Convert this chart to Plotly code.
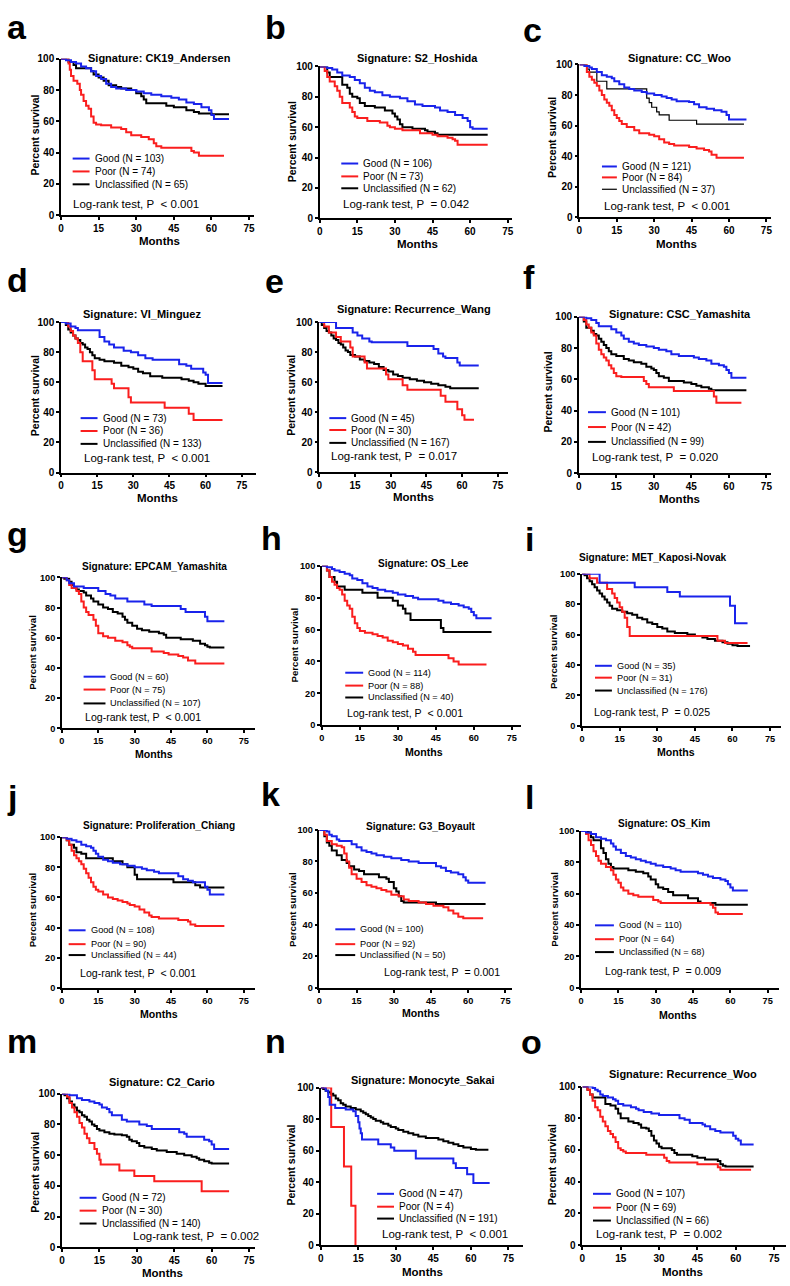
import plotly.graph_objects as go

W, H = 790, 1286

BLUE = "rgb(25, 35, 235)"
RED = "rgb(250, 30, 30)"
BLACK = "rgb(0, 0, 0)"
FONT = "Liberation Sans, Arial, sans-serif"

# ---- panel text -------------------------------------------------------------
LETTERS = list("abcdefghijklmno")
SIGNATURES = ["CK19_Andersen", "S2_Hoshida", "CC_Woo", "VI_Minguez", "Recurrence_Wang",
              "CSC_Yamashita", "EPCAM_Yamashita", "OS_Lee", "MET_Kaposi-Novak",
              "Proliferation_Chiang", "G3_Boyault", "OS_Kim", "C2_Cario",
              "Monocyte_Sakai", "Recurrence_Woo"]
N_GOOD = [103, 106, 121, 73, 45, 101, 60, 114, 35, 108, 100, 110, 72, 47, 107]
N_POOR = [74, 73, 84, 36, 30, 42, 75, 88, 31, 90, 92, 64, 30, 4, 69]
N_UNCL = [65, 62, 37, 133, 167, 99, 107, 40, 176, 44, 50, 68, 140, 191, 66]
P_TEXT = ["< 0.001", "= 0.042", "< 0.001", "< 0.001", "= 0.017", "= 0.020", "< 0.001",
          "< 0.001", "= 0.025", "< 0.001", "= 0.001", "= 0.009", "= 0.002", "< 0.001",
          "= 0.002"]
X_TICKS = [0, 15, 30, 45, 60, 75]
Y_TICKS = [0, 20, 40, 60, 80, 100]

# ---- Kaplan-Meier steps: (month, percent survival) -------------------------
A_GOOD = [(0,100),(2,99),(4,98),(6,97),(8,95),(10,94),(12,92),(14,89),(16,87),(18,84),(20,82),(22,81),(26,80),(30,79),(33,78),(36,77),(40,76),(44,75),(47,74),(50,72),(53,71),(56,69),(59,67),(60,64),(61,61.5),(67,61.5)]
A_POOR = [(0,100),(3,97),(3.5,93),(4,89),(5,86),(6.5,84),(7.5,80),(8,77),(9,73),(10,70),(11,68),(12,63),(13,59),(14,58),(16,57.5),(20,56),(24,55),(26,53),(28,51),(32,50),(35,48.5),(37,46),(38,44),(40,43),(52,41),(53,40),(55,38),(65,38)]
A_UNCL = [(0,100),(3,98),(5,96),(6,94),(12,92),(13,90),(15,88),(17,86),(19,83),(22,82),(24,81),(28,80),(30,78),(32,76),(33,74),(34,71.5),(42,70),(45,69),(50,67),(53,66),(55,65),(60,64.5),(67,64.5)]

B_GOOD = [(0,100),(3,99),(5,98),(7,96),(9,94),(12,93),(14,91),(16,89),(18,86),(20,84),(22,83),(25,81),(28,80),(32,79),(35,77),(38,75),(41,74),(46,73),(48,71),(51,70),(54,68),(57,66),(59,64),(60,60),(61,59),(67,59)]
B_POOR = [(0,100),(2,97),(3,93),(4,90),(6,87),(7,84),(8,80),(9,76),(11,76),(12,73),(13,70),(14,67),(15,66),(19,64),(24,63),(27,61),(28,60),(30,59),(33,58),(39,58),(40,56),(45,55),(47,54),(51,53),(53,52),(54,51),(55,48.5),(67,48.5)]
B_UNCL = [(0,100),(3,96),(4,93),(8,93),(9,88),(11,86),(12,82),(13,80),(15,79),(16,76),(18,74),(22,73),(26,71),(29,69),(30,67),(31,65),(32,62),(33,60),(37,59),(42,58),(43,57),(46,56),(47,55),(67,55)]

C_GOOD = [(0,100),(2,99),(4,98),(5,97),(7,95),(9,93),(11,92),(13,91),(14,89),(16,87),(18,85),(20,84),(22,83),(25,82),(27,81),(30,80),(33,79),(35,78),(37,77),(39,76),(44,75.5),(46,74),(48,72),(51,71),(54,70),(57,69),(59,67),(60,64),(67,64)]
C_POOR = [(0,100),(3,95),(4,92),(5,90),(6,88),(7,86),(8,83),(9,80),(10,77),(11,75),(12,73),(13,70),(14,67),(15,65),(16,63),(17,61),(19,59),(22,57),(24,55),(28,54),(30,53),(32,51),(34,49),(36,48),(38,47),(44,46),(47,45),(50,44),(52,43),(53,41),(55,39),(66,39)]
C_UNCL = [(0,100),(3,97),(4,95),(7,89),(10,89),(11,84),(26,84),(27,78),(28,75),(29,72),(31,69),(32,67),(36,63.5),(47,61),(66,61)]

D_GOOD = [(0,100),(2,99),(4,97),(6,96),(7,94.5),(15,94.5),(16,90),(18,87),(20,85),(22,83),(26,81),(29,80),(32,78),(35,76),(38,75),(48,75),(49,72),(52,71),(54,69),(59,66.5),(60,65),(61,59.5),(67,59.5)]
D_POOR = [(0,100),(3,97),(4,94),(5,91),(6,89),(7,86),(8,80),(9,74),(12,74),(13,68),(14,62),(20,62),(21,59),(22,56),(27,56),(28,50),(29,46.5),(42,46.5),(43,43),(52,43),(53,39),(55,35),(67,35)]
D_UNCL = [(0,100),(2,98),(3,95),(4,93),(5,91),(6,89),(7,88),(8,86),(9,85),(10,83),(11,82),(12,80),(13,78),(14,76),(16,75),(18,74),(22,73),(25,71),(28,70),(30,69),(32,67),(34,66),(37,64),(42,63),(50,62),(53,61),(55,60),(57,59),(60,57.5),(67,57.5)]

E_GOOD = [(0,100),(6,100),(7,96),(12,96),(14,93),(16,91),(18,89),(21,87),(22,86.5),(36,86.5),(37,84),(46,84),(48,82),(50,79),(52,77),(53,76),(57,76),(58,73),(59,71),(67,71)]
E_POOR = [(0,100),(2,97),(4,93),(7,90),(9,87),(12,87),(13,83),(14,77),(18,77),(19,73),(20,69),(26,69),(28,65),(29,62),(33,62),(35,58),(37,55),(50,55),(51,51),(53,47),(57,47),(58,42),(60,38),(61,35),(65,35)]
E_UNCL = [(0,100),(1,98),(2,96),(3,94),(4,93),(5,91),(6,89),(7,88),(8,86),(9,85),(10,83),(11,81),(12,80),(13,78),(15,77),(17,75),(19,74),(21,73),(23,72),(25,70),(27,68),(29,67),(31,65),(33,64),(35,63),(38,62),(41,61),(44,60),(47,59),(50,58),(53,57),(55,56),(67,56)]

F_GOOD = [(0,100),(3,99),(5,98),(7,96),(8,94),(11,94),(13,92),(15,90),(17,88),(18,86),(20,84),(22,83),(24,82),(27,81),(30,80),(32,79),(35,78),(37,76),(40,75),(45,75),(46,74),(48,73),(51,72),(53,70),(56,69),(58,68),(59,66),(60,64),(61,61),(67,61)]
F_POOR = [(0,100),(2,98),(3,95),(4,93),(5,90),(6,88),(7,83),(8,79),(9,76),(10,74),(11,72),(12,69),(13,67),(14,64),(15,62),(17,61.5),(25,61.5),(26,59),(27,57),(28,55),(37,55),(38,52.5),(53,52.5),(54,49),(55,45),(65,45)]
F_UNCL = [(0,100),(2,97),(3,93),(5,91),(6,89),(7,88),(8,86),(9,84),(10,82),(11,80),(12,78),(13,76),(15,75),(18,73),(20,72),(22,71),(25,70),(27,68),(29,67),(30,66),(31,64),(32,62),(34,61),(36,59),(42,58),(45,57),(47,56),(49,55),(52,54),(53,53),(67,53)]

G_GOOD = [(0,100),(2,98),(3,96),(5,94),(8,94),(9,93),(14,93),(15,91),(18,89),(20,88),(22,86),(25,86),(27,84),(33,84),(34,82),(37,81),(48,81),(49,79),(51,77),(57,77),(59,74),(60,71),(67,71)]
G_POOR = [(0,100),(2,98),(3,95),(4,93),(6,91),(7,89),(8,84),(9,80),(10,77),(11,75),(13,72),(14,68),(15,63),(17,61),(19,60),(22,58),(25,57),(27,55),(28,54),(29,53),(36,53),(37,51),(42,50),(44,49),(48,48),(50,47),(52,45),(55,43),(67,43)]
G_UNCL = [(0,100),(1,99),(3,97),(4,95),(5,93),(6,92),(7,91),(9,90),(10,88),(12,86),(13,84),(15,82),(17,80),(19,79),(21,77),(23,76),(25,74),(26,72),(27,70),(29,68),(31,66),(33,65),(36,64),(40,63),(42,62),(43,60),(49,59),(54,58),(57,56),(59,55),(60,54),(61,53.5),(67,53.5)]

H_GOOD = [(0,100),(2,99),(4,98),(5,97),(7,96),(9,95),(11,94),(12,92),(14,91),(16,89),(18,87),(20,86),(22,85),(25,84),(28,83),(30,82),(33,81),(36,80),(38,79),(46,78),(48,77),(51,76),(54,75),(56,74),(58,73),(59,71),(60,69),(61,67),(67,67)]
H_POOR = [(0,100),(2,97),(3,93),(4,90),(5,88),(6,86),(7,85),(8,82),(9,78),(10,75),(11,73),(12,68),(13,64),(14,61),(15,59),(17,58),(20,57),(22,56),(24,55),(26,53),(28,52),(30,51),(32,50),(34,48),(36,46),(37,44),(48,44),(50,42),(52,40),(54,38),(65,38)]
H_UNCL = [(0,100),(2,97),(3,93),(5,90),(6,87),(8,87),(9,85),(15,85),(16,83),(20,83),(22,80),(27,80),(28,78),(30,75),(32,73),(33,70),(35,66),(45,66),(47,61),(48,58.5),(67,58.5)]

I_GOOD = [(0,100),(6,100),(7,94),(20,94),(21,91),(33,91),(34,88),(38,88),(39,85),(58,85),(59,79),(61,67.5),(66,67.5)]
I_POOR = [(0,100),(3,97),(6,94),(10,90),(12,87),(13,84),(14,81),(15,78),(16,75),(17,71),(18,65),(19,59),(53,59),(54,56),(57,54.5),(66,54.5)]
I_UNCL = [(0,100),(1,99),(2,97),(3,95),(4,93),(5,91),(6,89),(7,87),(8,85),(9,83),(10,81),(11,79),(12,77),(14,76),(16,75),(18,74),(20,73),(22,71),(24,70),(26,68),(28,67),(30,65),(32,64),(34,62),(37,61),(42,60),(45,59),(48,58),(50,57),(53,56),(56,55),(58,54),(60,53),(62,52.5),(67,52.5)]

J_GOOD = [(0,100),(2,99),(4,98),(6,97),(8,95),(10,94),(12,93),(13,91),(14,89),(15,87),(17,85),(19,84),(21,83),(24,82),(27,81),(30,80),(33,79),(35,78),(38,77),(40,76),(46,76),(48,74),(50,72),(52,71),(54,70),(58,70),(59,67),(60,65),(61,62),(67,62)]
J_POOR = [(0,100),(2,98),(3,95),(4,91),(5,88),(6,86),(7,84),(8,82),(9,79),(10,76),(11,73),(12,70),(13,67),(14,65),(15,64),(17,62),(19,60),(21,59),(23,58),(25,57),(27,56),(28,55),(30,54),(32,52),(34,50),(36,48),(37,47),(40,46),(48,45),(52,44),(53,42),(55,41),(67,41)]
J_UNCL = [(0,100),(2,98),(3,95),(5,93),(6,90),(8,89),(10,86),(20,86),(21,84),(24,84),(25,82),(27,80),(30,75),(31,72),(45,72),(46,70),(54,70),(55,68),(57,66.5),(67,66.5)]

K_GOOD = [(0,100),(3,99),(4,97),(5,96),(7,94),(8,93),(12,93),(13,91),(15,89),(17,87),(19,86),(21,85),(23,84),(26,83),(29,82),(33,81),(36,80),(40,79),(45,79),(47,77),(49,76),(51,74),(53,73),(56,72),(58,70),(59,68),(60,66.5),(67,66.5)]
K_POOR = [(0,100),(2,97),(3,93),(5,91),(7,90),(9,89),(10,85),(11,80),(12,76),(13,72),(15,69),(17,67),(19,65),(21,64),(23,63),(25,62),(27,61),(29,59),(32,58),(34,56),(36,55),(40,54),(43,53),(46,52),(50,51),(52,49),(54,47),(56,45),(58,44),(66,44)]
K_UNCL = [(0,100),(2,96),(3,92),(4,90),(5,87),(7,84),(9,81),(11,79),(12,77),(14,75),(16,74),(18,72),(23,72),(24,70),(27,69),(28,67),(30,63),(31,61),(32,58),(33,55),(34,54),(46,54),(47,53),(67,53)]

L_GOOD = [(0,100),(2,99),(4,98),(6,96),(8,95),(10,94),(12,92),(13,90),(14,88),(16,86),(18,84),(20,83),(22,82),(24,81),(26,80),(28,79),(30,78),(33,77),(36,76),(38,75),(40,74),(45,74),(47,73),(49,72),(51,71),(53,70),(56,69),(58,68),(59,66),(60,64),(61,62),(67,62)]
L_POOR = [(0,100),(2,98),(3,94),(4,91),(5,87),(6,84),(7,81),(8,79),(10,77),(12,75),(13,72),(14,69),(15,67),(16,64),(17,62),(19,60),(21,59),(23,58),(28,58),(29,56),(31,55),(32,54),(51,54),(52,53),(53,51),(54,48),(55,47),(65,47)]
L_UNCL = [(0,100),(3,99),(4,96),(5,94),(7,94),(8,89),(9,86),(10,82),(11,79),(12,77),(13,76),(17,76),(19,75),(22,74),(25,73),(27,71),(28,69),(30,66),(31,64),(33,63),(35,61),(37,59),(42,59),(43,57),(47,55),(48,54),(53,54),(54,53),(67,53)]

M_GOOD = [(0,100),(3,99),(6,97),(8,96),(11,95),(13,94),(15,93),(16,91),(18,90),(19,88),(20,86),(23,86),(24,83),(26,82),(30,82),(31,80),(34,79),(36,77),(46,77),(47,75),(49,74),(50,72),(56,72),(57,70),(59,69),(60,67),(61,64),(67,64)]
M_POOR = [(0,100),(2,98),(3,94),(4,91),(5,88),(6,85),(7,81),(8,78),(9,74),(10,71),(11,68),(12.5,68),(13,64),(14,61),(15,57),(15.5,54),(22,54),(23,50),(28,50),(29,46.5),(36,46.5),(37,43),(55,43),(56,36.5),(67,36.5)]
M_UNCL = [(0,100),(1,99),(2,97),(3,95),(4,93),(5,91),(6,89),(7,88),(8,86),(9,85),(10,83),(11,82),(12,80),(13,79),(14,77),(15,76),(17,75),(19,74),(21,73.5),(24,73),(26,72),(27,70),(28,69),(30,68),(31,66),(33,65),(36,64),(38,63),(42,62),(46,61),(49,60),(52,59),(54,58),(55,57),(57,56),(59,55),(60,54.5),(67,54.5)]

N_GOOD_KM = [(0,100),(2,98),(3,94),(3.6,89),(5.8,87),(10,86),(13,85),(14,82),(15,78),(15.5,74),(16,71),(16.5,67),(22.5,67),(23,64),(28,62),(29.4,60),(37.6,60),(38,55),(52.5,55),(53,52),(54,49),(58.5,45),(61,39.5),(67.5,39.5)]
N_POOR_KM = [(0,100),(4.2,75),(9.3,50),(12.2,25),(13.9,0)]
N_UNCL_KM = [(0,100),(1,99),(2,98),(3,97),(4,96),(5,95),(6,93),(7,92),(8,90),(9,89),(10,88),(12,87),(14,86),(16,85),(17,84),(18,83),(19,82),(20,81),(21,80),(22,79),(24,78),(25,77),(27,76),(28,75),(30,74),(31,73),(33,72),(35,71),(37,70),(39,69),(42,68),(47,67),(49,66),(51,65),(53,64),(55,63),(57,62),(60,61),(62,60.5),(67,60.5)]

O_GOOD = [(0,100),(4,99),(5,98),(6,97),(7,95),(8,94),(10,93),(12,92),(13,91),(14,89),(16,88),(19,87),(21,86),(22,85),(24,84),(27,83),(30,82),(36,82),(38,80),(40,79),(42,77),(46,77),(47,76),(48,75),(50,73),(52,72),(54,71),(58,71),(59,69),(60,67),(61,66),(62,63.5),(67,63.5)]
O_POOR = [(0,100),(2,98),(3,95),(4,91),(5,87),(6,85),(7,81),(8,78),(9,75),(10,72),(11,70),(12,68),(13,65),(14,61),(15,60),(16,59),(17,58),(24,58),(25,57),(31,57),(32,55),(33,53),(34,52),(44,52),(45,51),(52,51),(53,49),(54,47.5),(66,47.5)]
O_UNCL = [(0,100),(2,98),(3,95),(4,93),(8,93),(9,89),(11,88),(13,86),(14,83),(15,80),(17,80),(18,78),(20,77),(22,76),(23,74),(25,73.5),(26,72),(27,69),(28,66),(29,64),(30,62),(31,61),(35,60),(36,58),(37,57),(42,57),(43,56),(45,55),(48,54),(52,54),(53,53),(54,51),(55,50),(56,49.5),(67,49.5)]

CURVES = [
    (A_GOOD, A_POOR, A_UNCL), (B_GOOD, B_POOR, B_UNCL), (C_GOOD, C_POOR, C_UNCL),
    (D_GOOD, D_POOR, D_UNCL), (E_GOOD, E_POOR, E_UNCL), (F_GOOD, F_POOR, F_UNCL),
    (G_GOOD, G_POOR, G_UNCL), (H_GOOD, H_POOR, H_UNCL), (I_GOOD, I_POOR, I_UNCL),
    (J_GOOD, J_POOR, J_UNCL), (K_GOOD, K_POOR, K_UNCL), (L_GOOD, L_POOR, L_UNCL),
    (M_GOOD, M_POOR, M_UNCL), (N_GOOD_KM, N_POOR_KM, N_UNCL_KM), (O_GOOD, O_POOR, O_UNCL),
]

# ---- layout in screen pixels ---------------------------------------------
# axes: y-axis x, x of tick 75, end of x-axis line, y of 100, y of 0
AXES = [
    (58.3, 247.3, 252, 53.3, 211), (318.3, 507.3, 512, 61, 214.3), (579.3, 767.3, 772, 59, 213.3),
    (58.3, 240, 254, 319, 471), (318, 497.3, 508, 319, 470.7), (578.7, 767.3, 772, 313.7, 471.7),
    (59.2, 242, 253, 576.7, 729.3), (320.5, 511.4, 521, 565, 726), (582, 771, 782, 573, 726.7),
    (59.2, 242, 253, 839, 991), (318, 505, 512, 831.7, 991), (581, 768.6, 780, 832.7, 991),
    (59.3, 247.3, 253, 1098, 1253), (319.3, 508, 523, 1091.7, 1251), (582.3, 775, 786.7, 1090.7, 1250.7),
]
# title xy, y-label xy, months xy, legend line x, legend text x, legend rows, log-rank xy
TEXTPOS = [
    ((157, 52), (32, 130), (157, 237), 70, 90, (154, 167, 180), (68, 200)),
    ((417, 52), (290, 137), (417, 240), 340, 360, (159, 172, 184), (340, 200)),
    ((680, 52), (552, 133), (677, 240), 602, 620, (162, 173, 185), (602, 202)),
    ((140, 311), (32, 393), (155, 497), 78, 98, (416, 429, 442), (79, 456)),
    ((413, 306), (290, 393), (413, 496), 328, 348, (416, 428, 441), (328, 454)),
    ((680, 311), (548, 390), (680, 498), 588, 609, (410, 425, 440), (590, 455)),
    ((152, 566), (30, 652), (152, 755), 81, 106, (677, 690, 704), (80, 718)),
    ((423, 563), (293, 645), (423, 753), 344, 365, (673, 686, 698), (344, 714)),
    ((653, 557), (554, 652), (676, 753), 595, 615, (666, 678, 691), (592, 713)),
    ((157, 827), (30, 912), (157, 1017), 66, 86, (933, 947, 958), (75, 976)),
    ((420, 828), (291, 912), (420, 1016), 334, 357, (932, 947, 958), (381, 975)),
    ((664, 825), (554, 912), (678, 1018), 595, 617, (928, 942, 955), (603, 974)),
    ((160, 1086), (32, 1177), (160, 1279), 77, 97, (1203, 1216, 1229), (129, 1242)),
    ((422, 1084), (290, 1170), (422, 1278), 376, 396, (1199, 1212, 1224), (379, 1240)),
    ((683, 1078), (552, 1170), (683, 1278), 593, 614, (1199, 1213, 1226), (594, 1240)),
]
# letters: (left x, y, anchor); first row hangs from the top edge
LETTER_POS = [(2, 0, "top"), (261, 0, "top"), (521, 3, "top"),
              (2, 277, "middle"), (261, 278, "middle"), (521, 274, "middle"),
              (2, 533, "middle"), (257, 537, "middle"), (523, 538, "middle"),
              (2, 798, "middle"), (257, 795, "middle"), (523, 798, "middle"),
              (2, 1045, "middle"), (261, 1045, "middle"), (519, 1046, "middle")]


def px(x):
    return x / W


def py(y):
    return 1 - y / H


fig = go.Figure()
annotations = []
shapes = []
layout = {}

for i in range(15):
    k = i + 1
    xa, ya = f"x{k}", f"y{k}"
    x0, x75, xend, y100, y0 = AXES[i]
    xmax = 75 * (xend - x0) / (x75 - x0)
    squeezed = 6 <= i <= 11  # rows g-l look horizontally compressed
    sz = 0.92 if squeezed else 1.0
    good, poor, uncl = CURVES[i]
    widths = (2, 2, 1.2 if i == 2 else 2)
    for pts, col, lw in ((uncl, BLACK, widths[2]), (poor, RED, widths[1]), (good, BLUE, widths[0])):
        fig.add_trace(go.Scatter(
            x=[p[0] for p in pts], y=[p[1] for p in pts], mode="lines",
            line=dict(color=col, width=lw, shape="hv"), cliponaxis=False,
            xaxis=xa, yaxis=ya, showlegend=False, hoverinfo="skip"))
    axis_common = dict(showline=True, linecolor="black", linewidth=1.5, ticks="outside",
                       ticklen=3, tickwidth=1.5, tickcolor="black", showgrid=False,
                       zeroline=False,
                       tickfont=dict(family=FONT, size=10 * sz, color="black", weight="bold"))
    layout[f"xaxis{k}"] = dict(domain=[px(x0), px(xend)], range=[0, xmax], anchor=ya,
                               tickvals=X_TICKS, **axis_common)
    layout[f"yaxis{k}"] = dict(domain=[py(y0), py(y100)], range=[0, 100], anchor=xa,
                               tickvals=Y_TICKS, **axis_common)

    (tx, ty), (lx_, ly_), (mx, my), lline, ltext, rows, (rx, ry) = TEXTPOS[i]
    annotations.append(dict(x=px(tx), y=py(ty), text=f"Signature: {SIGNATURES[i]}",
                            font=dict(family=FONT, size=11 * sz, color="black", weight="bold")))
    annotations.append(dict(x=px(lx_), y=py(ly_), text="Percent survival", textangle=-90,
                            font=dict(family=FONT, size=10.5 * sz, color="black", weight="bold")))
    annotations.append(dict(x=px(mx), y=py(my), text="Months",
                            font=dict(family=FONT, size=11.5 * sz, color="black", weight="bold")))
    labels = [f"Good (N = {N_GOOD[i]})", f"Poor (N = {N_POOR[i]})", f"Unclassified (N = {N_UNCL[i]})"]
    for lab, col, row, lw in zip(labels, (BLUE, RED, BLACK), rows, widths):
        shapes.append(dict(type="line", xref="paper", yref="paper", x0=px(lline),
                           x1=px(ltext - 3), y0=py(row), y1=py(row), line=dict(color=col, width=lw)))
        annotations.append(dict(x=px(ltext), y=py(row), text=lab, xanchor="left",
                                font=dict(family=FONT, size=10 * sz, color="black")))
    annotations.append(dict(x=px(rx), y=py(ry), text=f"Log-rank test, P\u00a0 {P_TEXT[i]}",
                            xanchor="left", font=dict(family=FONT, size=11.5 * sz, color="black")))
    lx0, ly0, anc = LETTER_POS[i]
    annotations.append(dict(x=px(lx0), y=py(ly0), text=LETTERS[i], xanchor="left", yanchor=anc,
                            font=dict(family=FONT, size=34, color="black", weight="bold")))

for a in annotations:
    a.update(xref="paper", yref="paper", showarrow=False)
    a.setdefault("xanchor", "center")
    a.setdefault("yanchor", "middle")

fig.update_layout(width=W, height=H, margin=dict(l=0, r=0, t=0, b=0),
                  paper_bgcolor="white", plot_bgcolor="white",
                  annotations=annotations, shapes=shapes, **layout)

# drop the page's default body margin so figure pixels line up with the window
fig.write_html("out.html", config={"displayModeBar": False},
               post_script="document.body.style.margin = '0px';")
